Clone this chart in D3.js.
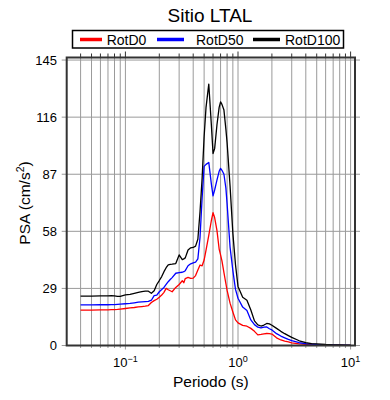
<!DOCTYPE html>
<html>
<head>
<meta charset="utf-8">
<script src="https://cdn.jsdelivr.net/npm/d3@7"></script>
<style>
  html, body { margin: 0; padding: 0; background: #fff; }
  svg { display: block; font-family: "Liberation Sans", Arial, Helvetica, sans-serif; }
</style>
</head>
<body>
<svg id="chart" width="390" height="400"></svg>
<script>
const title = "Sitio LTAL";
const xLabel = "Periodo (s)";
const seriesNames = ["RotD0", "RotD50", "RotD100"];
const seriesColors = ["#ff0000", "#0000ff", "#000000"];
const yTicks = [0, 29, 58, 87, 116, 145];
const xMajorTicks = [0.1, 1, 10];
const xMajorExp = ["\u22121", "0", "1"];

const periods = [0.04,0.05,0.06,0.07,0.075,0.08,0.085,0.09,0.1,0.11,0.12,0.13,0.14,0.15,0.16,0.17,0.18,0.19,0.2,
  0.21,0.22,0.23,0.24,0.25,0.26,0.28,0.30,0.32,0.33,0.34,0.36,0.38,0.40,
  0.42,0.44,0.46,0.48,0.50,0.52,0.55,0.58,0.60,0.62,0.65,0.68,0.70,0.72,0.75,0.78,0.80,
  0.85,0.90,0.95,1.0,1.1,1.2,1.3,1.4,1.5,1.6,1.7,1.8,1.9,2.0,2.2,2.4,2.6,2.8,3.0,3.5,4.0,4.5,5.0,6,7,8,9,10];

const rotD0 = [18.0,18.0,18.1,18.1,18.2,18.2,18.3,18.5,18.8,19.1,19.3,19.6,19.8,20.0,20.3,21.8,22.8,23.5,24.5,
  25.6,27.0,29.0,28.3,27.8,27.3,29.5,31.0,32.9,31.9,34.0,34.6,34.1,34.2,
  35.5,38.3,40.9,40.5,43.4,48.5,56.0,63.5,67.5,65.0,58.5,49.0,46.0,43.0,37.0,31.5,28.0,
  21.5,17.0,13.0,11.5,10.2,9.8,8.7,7.2,5.4,5.6,5.9,6.1,6.0,5.8,3.9,2.8,2.2,1.8,1.3,0.8,0.6,0.5,0.4,0.3,0.2,0.15,0.1,0.1];

const rotD50 = [20.6,20.6,20.7,20.7,20.8,20.8,20.9,21.0,21.2,21.4,21.7,22.0,22.2,22.3,22.4,23.0,25.3,25.6,27.3,
  28.4,29.5,31.0,32.4,33.5,34.5,36.7,37.0,37.2,37.5,38.0,40.5,41.5,42.0,
  42.3,44.0,55.0,75.0,91.0,92.0,93.0,82.0,76.0,79.0,84.0,88.5,90.0,89.0,87.0,80.0,72.0,
  50.0,38.0,28.5,24.0,19.5,17.8,13.0,10.6,9.3,8.9,9.3,9.4,8.5,7.9,6.0,4.8,3.9,3.1,2.5,1.4,0.9,0.7,0.5,0.35,0.25,0.2,0.15,0.1];

const rotD100 = [25.1,25.1,25.2,25.2,25.3,25.2,25.0,25.0,25.7,26.0,26.5,27.0,27.4,27.6,27.6,26.5,27.8,31.0,33.0,
  35.0,37.5,39.5,41.0,41.2,41.3,41.6,46.0,43.6,44.0,44.5,48.5,49.6,49.8,
  50.5,54.0,68.0,85.0,106.0,121.0,132.8,112.0,97.5,100.0,112.0,121.0,123.8,122.5,119.6,110.0,103.0,
  81.0,57.0,41.0,30.0,24.5,23.0,18.0,12.5,10.5,9.9,10.4,11.2,11.0,10.3,8.7,7.2,6.0,5.0,4.1,2.4,1.5,1.0,0.8,0.5,0.35,0.25,0.2,0.15];

const allSeries = [rotD0, rotD50, rotD100];

const svg = d3.select("#chart");
const L = 66.7, R = 355, T = 57.5, B = 345.5;
const x = d3.scaleLog().domain([0.0301, 10.94]).range([L, R]);
const y = d3.scaleLinear().domain([0, 146.3]).range([B, T]);

// grid
const grid = svg.append("g");
const xt = x.ticks();
grid.selectAll("line.v").data(xt).join("line")
  .attr("x1", d => x(d)).attr("x2", d => x(d))
  .attr("y1", T).attr("y2", B)
  .attr("stroke", "#9a9a9a").attr("stroke-width", 1);
grid.selectAll("line.h").data(yTicks.filter(d => d > 0)).join("line")
  .attr("x1", L).attr("x2", R)
  .attr("y1", d => y(d)).attr("y2", d => y(d))
  .attr("stroke", "#9a9a9a").attr("stroke-width", 1);

// ticks outside
const tk = svg.append("g");
tk.selectAll("line.l").data(yTicks).join("line")
  .attr("x1", L - 5).attr("x2", L).attr("y1", d => y(d)).attr("y2", d => y(d))
  .attr("stroke", "#9a9a9a");
tk.selectAll("line.r").data(yTicks).join("line")
  .attr("x1", R).attr("x2", R + 5).attr("y1", d => y(d)).attr("y2", d => y(d))
  .attr("stroke", "#9a9a9a");
const isMajor = d => Math.abs(Math.log10(d) - Math.round(Math.log10(d))) < 1e-6;
tk.selectAll("line.t").data(xt).join("line")
  .attr("x1", d => x(d)).attr("x2", d => x(d))
  .attr("y1", T).attr("y2", d => T - (isMajor(d) ? 6 : 4))
  .attr("stroke", "#333");
tk.selectAll("line.b").data(xt).join("line")
  .attr("x1", d => x(d)).attr("x2", d => x(d))
  .attr("y1", B).attr("y2", d => B + (isMajor(d) ? 4 : 2.5))
  .attr("stroke", "#9a9a9a");

// lines
const line = d3.line().x((d, i) => x(periods[i])).y(d => y(d));
svg.append("g").selectAll("path").data(allSeries).join("path")
  .attr("d", d => line(d))
  .attr("fill", "none")
  .attr("stroke", (d, i) => seriesColors[i])
  .attr("stroke-width", 1.3)
  .attr("stroke-linejoin", "round");

// frame
svg.append("rect").attr("x", L).attr("y", T).attr("width", R - L).attr("height", B - T)
  .attr("fill", "none").attr("stroke", "#333").attr("stroke-width", 2);

// y tick labels
svg.append("g").selectAll("text").data(yTicks).join("text")
  .attr("x", 57).attr("y", d => y(d)).attr("dy", "0.35em")
  .attr("text-anchor", "end").attr("font-size", 13).attr("fill", "#000")
  .text(d => d);

// x tick labels
const xl = svg.append("g").selectAll("text").data(xMajorTicks).join("text")
  .attr("x", d => x(d)).attr("y", 367)
  .attr("text-anchor", "middle").attr("font-size", 13).attr("fill", "#000");
xl.append("tspan").text("10");
xl.append("tspan").attr("font-size", 9).attr("dy", -5).text((d, i) => xMajorExp[i]);

// axis titles
svg.append("text").attr("x", (L + R) / 2).attr("y", 387)
  .attr("text-anchor", "middle").attr("font-size", 15.5).text(xLabel);
const yl = svg.append("text").attr("transform", "translate(30,203) rotate(-90)")
  .attr("text-anchor", "middle").attr("font-size", 15.5);
yl.append("tspan").text("PSA (cm/s");
yl.append("tspan").attr("font-size", 10.5).attr("dy", -6).text("2");
yl.append("tspan").attr("dy", 6).text(")");

// title
svg.append("text").attr("x", 210).attr("y", 22).attr("text-anchor", "middle")
  .attr("font-size", 19).text(title);

// legend
const lg = svg.append("g");
lg.append("rect").attr("x", 72.5).attr("y", 30.5).attr("width", 271).attr("height", 17.5)
  .attr("fill", "#fff").attr("stroke", "#000").attr("stroke-width", 1.5);
const lineX = [[80, 102], [157, 184], [253, 280]];
const textX = [106.7, 196, 285];
seriesNames.forEach((n, i) => {
  lg.append("line").attr("x1", lineX[i][0]).attr("x2", lineX[i][1])
    .attr("y1", 39.5).attr("y2", 39.5).attr("stroke", seriesColors[i]).attr("stroke-width", 3.5);
  lg.append("text").attr("x", textX[i]).attr("y", 44.5).attr("font-size", 14).text(n);
});
</script>
</body>
</html>
